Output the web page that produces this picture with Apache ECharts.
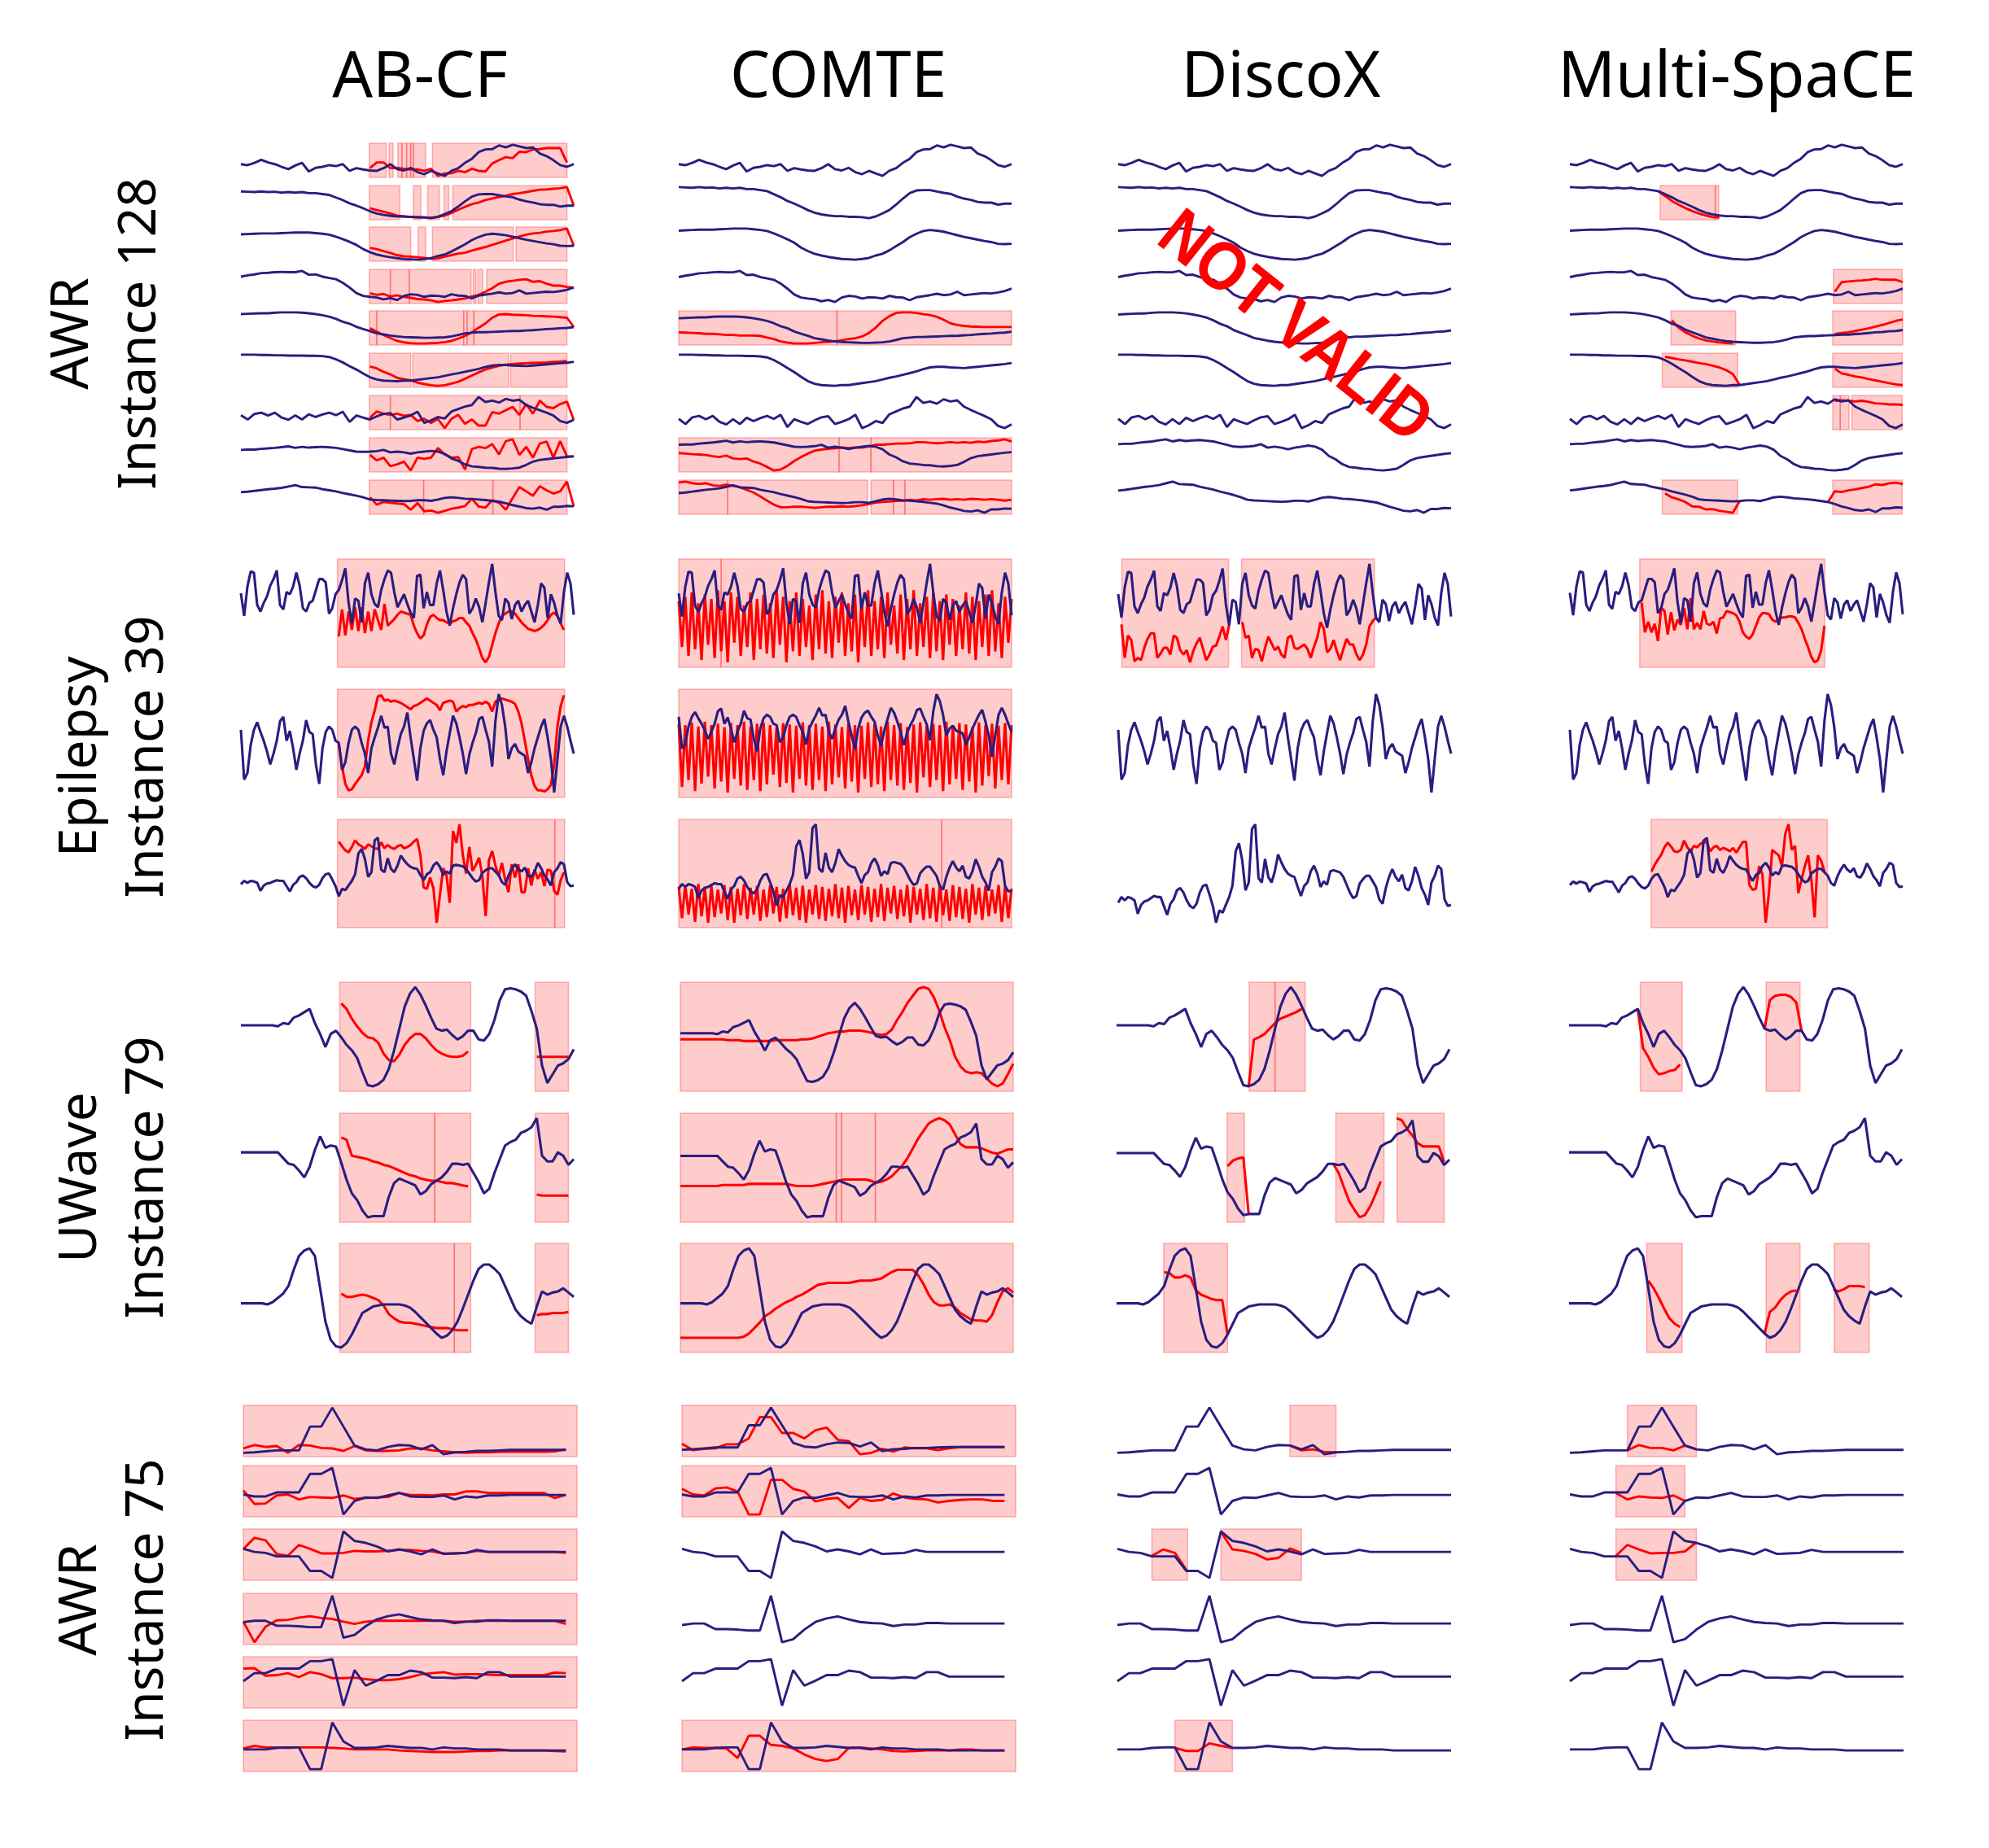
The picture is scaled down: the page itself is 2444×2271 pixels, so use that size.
<!DOCTYPE html>
<html><head><meta charset="utf-8">
<script src="https://cdn.jsdelivr.net/npm/echarts@6/dist/echarts.min.js"></script>
<style>html,body{margin:0;padding:0;background:#fff}#c{width:2444px;height:2271px}</style>
</head><body><div id="c"></div><script>
// ---------------- labels ----------------
const METHODS = ['AB-CF','COMTE','DiscoX','Multi-SpaCE'];
const DATASETS = [['AWR','Instance 128'],['Epilepsy','Instance 39'],['UWave','Instance 79'],['AWR','Instance 75']];

// ---------------- AWR Instance 128 (9 channels) ----------------
const AWR128_BLUE = [
 [38,35,42,51,43,38,30,23,34,42,16,27,30,35,32,38,18,26,22,19,18,26,38,23,19,27,14,8,18,10,3,18,26,42,54,74,82,83,94,88,96,91,86,88,70,62,50,35,30,38],
 [96,95,94,96,94,95,92,94,92,94,90,90,87,84,75,66,55,47,38,28,20,15,12,10,10,8,8,7,4,9,18,28,44,62,78,86,87,87,83,79,76,68,62,58,52,50,50,44,47,47],
 [88,89,90,91,91,91,92,93,94,94,94,92,90,87,80,72,63,53,39,29,21,16,12,9,6,5,4,6,9,16,21,31,43,55,69,79,87,90,88,85,80,75,70,66,62,58,55,50,49,50],
 [80,84,87,91,92,94,95,94,94,98,86,87,80,76,72,61,46,29,20,17,15,9,13,7,20,25,23,17,21,20,17,25,21,20,12,21,24,27,31,27,29,37,27,29,31,33,32,35,39,46],
 [88,89,90,91,91,93,94,94,94,93,91,88,84,79,71,61,54,43,35,28,20,16,12,9,7,6,5,4,4,5,6,9,14,20,22,24,24,25,26,27,28,28,30,31,33,35,36,38,39,42],
 [97,97,97,96,96,95,95,94,94,94,93,93,92,89,81,70,57,45,31,18,10,6,5,4,6,6,9,12,15,18,23,28,32,37,42,47,54,59,61,61,59,58,57,59,61,63,65,67,69,72],
 [31,17,35,39,30,39,23,16,30,17,34,25,33,39,31,42,9,30,23,17,27,35,38,17,23,30,42,6,14,25,20,43,51,59,64,90,74,78,72,84,78,81,64,55,47,39,30,12,6,16],
 [82,83,83,86,88,90,93,96,90,94,91,93,94,92,90,85,80,75,74,75,77,82,72,75,72,67,72,75,78,75,66,48,38,24,16,14,11,10,7,6,8,11,22,35,42,45,48,51,54,56],
 [71,73,76,79,82,84,87,92,97,90,89,88,82,78,74,68,63,58,52,44,42,41,40,39,38,39,41,41,39,44,50,52,50,47,46,44,42,39,36,30,23,18,12,10,14,6,17,17,20,19]
];
const AWR128_RED_ABCF = [
 [[19,[26,43,43,26,27,24,22,22,18,24,3,10,11,18,14,24,18,16,40,50,59,56,75,74,82,83,86,86,86,43]]],
 [[19,[38,32,26,20,13,10,8,6,6,6,8,13,22,33,43,52,58,66,72,77,81,87,90,94,98,102,103,105,107,111,47]]],
 [[19,[43,39,32,26,19,15,14,12,10,7,8,14,19,24,27,34,40,46,53,60,67,74,81,87,91,93,97,99,102,107,50]]],
 [[19,[28,23,26,18,22,17,14,10,9,6,1,4,6,9,12,18,23,33,44,58,64,67,70,72,64,66,58,52,52,48,46]]],
 [[19,[38,26,14,3,-7,-12,-15,-16,-16,-15,-14,-11,-7,1,11,23,40,55,75,87,88,86,85,84,82,81,80,79,77,75,42]]],
 [[19,[56,49,37,28,16,11,7,-1,-6,-10,-12,-10,-4,2,13,24,35,45,52,58,62,64,66,67,68,69,70,72,73,75]]],
 [[19,[23,43,36,32,36,29,32,12,19,6,19,-11,19,32,3,17,-3,-3,41,36,47,58,32,67,36,78,58,54,67,75,16]]],
 [[19,[62,40,51,17,24,35,0,51,46,51,89,64,51,53,3,85,94,89,105,64,117,124,62,94,51,107,115,51,117,56,56]]],
 [[19,[52,25,35,32,29,27,6,31,0,3,-5,2,10,14,20,47,18,14,41,32,6,49,90,74,58,93,78,66,74,110,19]]]
];
const AWR128_RED_COMTE = [[],[],[],[],
 [[0,[40,39,38,37,35,35,33,31,31,29,29,29,28,22,17,9,5,2,2,2,4,6,8,9,13,17,20,26,38,56,79,95,106,108,108,106,102,99,93,83,71,65,62,60,59,58,58,58,58,58]]],
 [],[],
 [[0,[53,51,49,48,46,42,39,44,34,32,34,23,16,4,-8,-5,8,25,39,51,61,65,68,70,72,70,72,72,76,82,82,84,86,86,87,91,91,89,87,89,91,89,91,89,93,91,95,97,101,93]]],
 [[0,[106,109,104,101,104,97,95,99,95,91,82,73,60,46,33,24,24,26,26,24,22,24,26,26,27,26,28,31,35,40,42,43,45,46,49,46,51,49,51,52,49,51,49,52,51,49,51,49,46,49]]]
];
const AWR128_RED_DISCOX = [[],[],[],[],[],[],[],[],[]];
const AWR128_RED_MULTI = [[],
 [[13,[84,70,55,44,34,25,18,12,7,6]]],
 [],
 [[39,[37,65,67,69,70,72,75,72,72,72,65]]],
 [[15,[71,49,35,25,17,11,8,5,3,2]],[39,[30,33,35,39,43,47,52,57,63,69,73]]],
 [[14,[91,87,83,80,76,72,69,64,59,51,39,6]],[39,[55,41,37,32,29,24,20,16,12,8,6]]],
 [[39,[80,81,80,78,80,77,73,72,70,70,69]]],
 [],
 [[14,[62,50,44,36,23,22,14,15,10,7,4,39]],[38,[36,68,66,71,74,78,82,89,87,92,94,90]]]
];
const AWR128_BOX_ABCF = [
 [[18.9,21.4],[21.8,22.4],[23.1,23.7],[23.7,24.4],[24.4,25.0],[25.0,25.4],[25.4,27.2],[28.2,48.0]],
 [[18.9,23.4],[25.4,26.5],[27.5,29.2],[29.9,30.6],[31.2,48.0]],
 [[18.9,25.0],[26.1,27.2],[28.2,40.1],[40.5,48.0]],
 [[18.9,22.0],[22.0,24.8],[24.8,33.9],[34.2,34.6],[34.9,35.6],[36.2,48.0]],
 [[18.9,20.0],[20.0,32.8],[32.8,33.3],[33.3,34.3],[34.3,48.0]],
 [[18.9,25.0],[25.3,39.4],[39.7,48.0]],
 [[18.9,22.0],[22.0,41.1],[41.1,48.0]],
 [[18.9,48.0]],
 [[18.9,26.9],[26.9,37.1],[37.1,48.0]]
];
const AWR128_BOX_COMTE = [[],[],[],[],[[0,23.3],[23.3,49]],[],[],[[0,23.6],[23.6,28.3],[28.3,49]],[[0,7.2],[7.2,27.8],[28.3,31.6],[31.6,33.3],[33.3,49]]];
const AWR128_BOX_DISCOX = [[],[],[],[],[],[],[],[],[]];
const AWR128_BOX_MULTI = [[],[[13.3,21.4],[21.4,21.9]],[],[[38.8,48.9]],[[14.9,24.4],[38.7,49]],[[13.6,24.7],[38.7,48.9]],[[38.7,39.8],[39.8,41.1],[41.5,48.9]],[],[[13.6,24.7],[38.7,48.9]]];

// ---------------- Epilepsy Instance 39 (3 channels) ----------------
const EPI39_BLUE = [
 [69,48,75,89,88,58,52,60,66,76,82,90,58,54,70,68,75,88,76,55,52,60,62,72,82,82,79,50,55,68,72,81,92,60,41,64,62,42,78,88,68,59,56,72,82,90,88,70,56,62,68,59,51,46,85,86,55,70,58,58,78,90,72,52,39,55,68,79,86,82,50,55,64,56,42,60,79,96,70,48,44,64,60,45,58,62,52,58,62,52,42,58,78,74,46,68,60,48,41,70,88,78,49],
 [62,16,22,48,62,69,60,52,42,30,40,52,70,74,52,61,45,25,40,52,71,60,58,30,12,45,60,65,62,52,50,25,32,50,62,65,62,50,40,22,45,55,64,75,64,65,40,30,45,58,65,78,55,35,15,45,61,68,71,62,55,35,20,42,59,75,68,55,40,21,39,50,59,72,74,62,51,28,70,95,85,65,35,45,49,42,40,38,22,32,45,55,65,72,55,35,4,35,65,75,65,52,40],
 [22,27,24,27,26,24,12,20,23,24,26,28,27,27,19,11,21,25,33,35,31,24,19,17,21,31,37,38,29,19,4,15,13,20,27,37,68,75,60,33,40,88,92,44,40,61,45,40,50,65,58,52,48,46,45,36,28,37,40,50,55,48,36,41,38,50,51,50,49,45,38,31,26,28,39,43,46,46,41,36,25,21,35,45,52,45,41,47,35,33,41,54,46,35,29,20,40,46,55,52,25,19,20]
];
const EPI39_RED_ABCF = [
 [[30,[29,54,30,52,35,56,34,56,32,52,34,54,44,35,59,39,42,45,49,52,51,50,49,39,32,27,30,40,47,49,46,44,44,42,41,43,44,46,46,42,39,32,26,18,9,5,10,21,32,41,48,50,52,52,50,46,42,39,36,35,34,35,37,40,44,49,51,48,41,35]]],
 [[30,[49,28,12,6,7,12,16,20,28,52,69,80,93,94,89,90,88,89,88,87,85,83,81,84,85,87,89,91,89,87,85,80,87,88,89,88,79,82,84,83,85,85,86,87,86,88,86,79,88,90,91,90,89,88,86,79,68,52,35,20,10,6,6,5,7,11,30,65,84,94]]],
 [[30,[86,79,73,70,78,88,82,79,75,82,79,76,75,85,76,81,77,75,79,81,76,78,81,86,90,66,17,15,32,16,-36,6,46,36,-6,102,84,112,66,38,78,42,51,62,34,-26,58,72,50,34,54,28,10,52,32,52,10,10,46,20,44,30,40,19,44,42,12,6,28,40]]]
];
const EPI39_RED_COMTE = [
 [[0,[62,20,66,12,70,18,60,8,68,22,64,10,72,16,62,6,70,24,66,12,58,20,70,8,64,18,68,14,60,10,72,22,66,6,62,16,70,12,64,20,58,8,68,18,72,14,62,10,66,24,70,12,60,16,68,6,64,20,72,12,62,18,66,10,70,22,58,14,68,8,64,18,72,12,60,20,66,10,70,16,62,8,68,22,64,12,58,18,70,14,66,8,62,20,68,12,72,16,60,10,66,24,64]]],
 [[0,[52,-40,50,-30,54,-46,48,-35,55,-25,50,-42,52,-32,47,-48,53,-28,50,-38,55,-44,48,-30,52,-46,54,-36,50,-22,47,-40,53,-34,51,-48,49,-28,54,-38,50,-44,52,-30,48,-46,55,-36,51,-26,47,-42,53,-32,50,-48,49,-28,54,-40,52,-36,48,-46,55,-30,50,-38,53,-44,47,-34,51,-48,54,-26,49,-40,52,-30,50,-46,55,-36,48,-28,53,-44,51,-32,47,-48,54,-38,50,-24,52,-42,49,-30,53,-36,50]]],
 [[0,[24,-10,26,-6,22,-14,27,-8,23,-15,25,-9,21,-5,26,-12,24,-15,22,-7,27,-11,23,-6,25,-13,21,-9,26,-5,24,-14,22,-10,27,-7,23,-12,25,-15,21,-6,26,-11,24,-13,22,-8,27,-10,23,-15,25,-7,21,-12,26,-6,24,-14,22,-9,27,-13,23,-5,25,-11,21,-8,26,-15,24,-6,22,-12,27,-10,23,-14,25,-7,21,-13,26,-9,24,-11,22,-15,27,-6,23,-12,25,-8,21,-5,26,-14,24,-10,22]]]
];
const EPI39_RED_DISCOX = [
 [[1,[42,12,32,28,9,12,10,21,29,34,34,12,16,21,21,15,32,30,19,15,19,8,18,25,30,20,10,15,22,23,31,40,28,41]],
  [38,[44,30,32,12,20,19,9,21,31,25,19,22,15,12,30,32,21,20,22,24,20,12,22,30,44,38,17,20,28,18,10,20,29,24,24,15,10,15,24,40,45,48]]],
 [],[]
];
const EPI39_RED_MULTI = [
 [[22,[60,32,42,32,40,24,55,52,30,51,34,44,39,55,35,64,35,41,35,52,40,39,42,31,45,46,52,51,50,48,42,32,28,26,30,38,46,50,50,49,44,42,44,46,46,47,47,46,41,35,26,18,9,4,6,15,38]]],
 [],
 [[25,[42,52,60,67,78,85,79,72,71,74,88,78,72,80,78,83,86,85,72,78,80,74,77,75,72,77,70,78,86,86,22,15,16,50,38,-34,10,74,70,66,50,98,112,74,80,10,30,50,66,30,-26,66,58,42]]]
];
const EPI39_BOX_ABCF = [[[29.6,99.2]],[[29.6,99.2]],[[29.6,96.2],[96.2,99.2]]];
const EPI39_BOX_COMTE = [[[0,13],[13,102]],[[0,102]],[[0,80.6],[80.6,102]]];
const EPI39_BOX_DISCOX = [[[1.1,33.8],[37.8,78.5]],[],[]];
const EPI39_BOX_MULTI = [[[21.4,78.1]],[],[[24.9,78.9]]];

// ---------------- UWave Instance 79 (3 channels) ----------------
const UW79_BLUE = [
 [60,60,60,60,60,60,60,59,62,61,67,69,72,75,62,52,40,52,55,49,42,37,30,17,5,4,6,10,20,37,57,77,89,95,88,78,67,57,55,56,51,47,50,55,55,47,46,52,65,83,93,94,93,91,87,73,57,23,7,15,23,25,29,38],
 [64,64,64,64,64,64,64,64,59,54,53,48,42,51,66,78,68,70,69,55,40,28,22,13,7,8,8,8,25,37,41,39,37,35,27,30,36,39,42,47,54,54,53,54,46,38,28,32,46,58,70,73,75,81,83,86,94,61,56,56,64,61,53,58],
 [45,45,45,45,45,44,46,50,54,61,76,89,94,96,89,59,28,11,5,4,8,16,26,36,39,42,43,44,44,44,44,43,41,37,32,27,22,17,13,15,20,28,40,53,66,77,81,81,77,72,61,50,39,33,29,26,42,56,53,55,56,59,55,51]
];
const UW79_RED_ABCF = [
 [[19,[80,75,66,59,53,49,48,44,34,28,27,33,42,48,52,52,48,42,37,34,32,31,31,32,36]],[56,[31,31,31,31,31,31,31]]],
 [[19,[77,75,61,60,59,58,56,55,53,52,50,48,46,44,43,41,40,39,39,38,37,37,36,35,34]],[56,[27,26,26,26,26,26,26]]],
 [[19,[54,51,51,52,53,52,50,48,43,35,31,28,27,27,26,25,24,23,22,22,22,21,20,20,20]],[56,[34,35,35,36,36,36,37]]]
];
const UW79_RED_COMTE = [
 [[0,[53,53,53,53,53,53,53,53,53,52,52,52,51,51,51,51,51,51,52,52,52,52,52,53,53,54,56,58,60,61,62,62,63,63,63,62,61,59,58,59,64,75,84,95,103,111,113,111,101,86,67,52,33,22,16,14,15,14,8,2,-1,2,13,25]]],
 [[0,[36,36,36,36,36,36,36,36,37,37,37,37,37,38,38,38,38,38,38,38,38,37,36,36,36,36,37,38,39,40,41,42,42,42,42,42,41,39,40,42,45,50,55,62,71,80,87,94,97,99,97,93,84,75,72,72,72,71,69,67,66,68,70,70]]],
 [[0,[13,13,13,13,13,13,13,13,13,13,13,13,14,17,22,27,33,36,40,43,46,48,51,53,56,59,62,63,64,64,64,64,64,65,66,66,66,67,68,71,74,76,76,76,76,71,63,53,46,43,43,44,41,36,33,30,29,29,28,34,46,56,59,55]]]
];
const UW79_RED_DISCOX = [
 [[25,[4,47,49,52,57,62,66,68,70,72,75]]],
 [[21,[52,57,59,60,8]],[41,[54,46,33,20,12,5,7,15,26,38]],[53,[96,94,86,80,73,70,70,70,70,56]]],
 [[9,[74,73,69,69,71,69,57,53,51,49,48,48,16]]]
];
const UW79_RED_MULTI = [
 [[13,[75,39,31,21,15,16,18,19,24]],[37,[57,83,87,88,88,86,81,55]]],
 [],
 [[15,[66,59,50,40,31,26,23]],[37,[17,37,41,48,53,56,57]],[50,[58,56,58,61,61,61,60]]]
];
const UW79_BOX_ABCF = [[[18.7,43.5],[55.7,62.0]],[[18.7,36.7],[36.7,43.5],[55.7,62.0]],[[18.7,40.4],[40.4,43.5],[55.7,62.0]]];
const UW79_BOX_COMTE = [[[0,63]],[[0,29.5],[29.5,30.5],[30.5,36.9],[36.9,63]],[[0,63]]];
const UW79_BOX_DISCOX = [[[25.1,30.0],[30.0,35.7]],[[20.9,24.2],[41.5,50.6],[53.1,62.0]],[[8.9,21.0]]];
const UW79_BOX_MULTI = [[[13.5,21.4],[37.3,43.7]],[],[[14.7,21.4],[37.3,43.7],[50.2,56.8]]];

// ---------------- AWR Instance 75 (6 channels) ----------------
const AWR75_BLUE = [
 [7,8,10,12,12,12,61,61,100,61,22,14,12,19,23,22,14,23,4,8,9,11,11,12,13,13,13,13,13,13],
 [43,39,39,47,47,47,84,84,96,3,30,37,36,41,46,39,38,38,41,33,39,37,41,41,42,42,42,42,42,42],
 [61,55,53,46,46,46,17,17,3,96,77,73,66,56,60,56,50,60,51,52,53,59,55,55,55,55,55,55,55,55],
 [38,41,41,30,30,29,27,27,96,4,10,29,44,51,55,49,44,42,41,36,39,39,42,42,41,41,41,41,41,41],
 [53,69,69,78,78,78,93,93,97,4,75,44,54,65,65,74,71,60,60,59,61,59,71,71,62,62,62,62,62,62],
 [43,43,43,46,47,47,4,4,96,59,46,46,47,50,48,46,46,43,47,45,45,43,43,43,41,41,41,41,41,41]
];
const AWR75_RED_ABCF = [
 [[0,[16,23,19,21,7,23,22,17,16,11,21,12,11,11,12,16,16,12,10,8,7,8,8,9,9,9,9,9,10,14]]],
 [[0,[51,24,25,41,43,33,38,37,36,41,34,36,37,38,46,42,42,41,43,43,49,49,46,46,46,46,46,46,36,42]]],
 [[0,[61,83,78,51,47,69,61,52,52,53,57,56,56,57,59,59,57,56,52,52,53,57,55,55,55,55,55,55,55,53]]],
 [[0,[39,-6,28,42,43,48,51,47,45,39,34,39,41,41,41,41,41,41,41,39,39,41,41,41,41,41,41,41,41,34]]],
 [[0,[78,79,64,65,69,61,71,67,59,59,60,57,55,55,57,61,67,69,71,66,67,67,66,65,65,65,65,65,70,69]]],
 [[0,[45,50,47,47,46,47,47,47,46,45,43,43,43,43,41,40,39,38,38,38,39,40,40,41,41,41,41,41,40,39]]]
];
const AWR75_RED_COMTE = [
 [[0,[20,6,9,10,19,19,32,79,79,44,44,32,50,56,29,26,-3,0,9,3,12,10,10,6,10,13,13,13,13,13]]],
 [[0,[54,43,41,55,57,49,3,3,72,72,54,49,29,34,36,16,36,30,32,45,37,34,33,27,30,32,33,33,30,30]]],
 [],[],[],
 [[0,[43,47,46,46,45,26,70,70,52,50,45,33,24,20,24,46,47,45,43,40,39,40,41,41,41,43,43,41,41,41]]]
];
const AWR75_RED_DISCOX = [
 [[15,[22,12,14,9,8]]],
 [],
 [[3,[47,60,53,19]],[9,[95,60,57,51,40,43,62,53]]],
 [],[],
 [[5,[46,40,40,55,50,46]]]
];
const AWR75_RED_MULTI = [
 [[5,[12,23,17,17,12,22,14]]],
 [[4,[46,33,39,37,36,41,30]]],
 [[4,[47,69,60,52,53,53,56,74]]],
 [],[],[]
];
const AWR75_BOX_ABCF = [[[0,30]],[[0,30]],[[0,30]],[[0,30]],[[0,30]],[[0,30]]];
const AWR75_BOX_COMTE = [[[0,30]],[[0,30]],[],[],[],[[0,30]]];
const AWR75_BOX_DISCOX = [[[15.0,19.0]],[],[[3.0,6.1],[9.0,16.0]],[],[],[[5.0,10.0]]];
const AWR75_BOX_MULTI = [[[5.0,11.0]],[[4.0,10.0]],[[4.0,11.0]],[],[],[]];

// ---------------- layout ----------------
const BLUE = '#2a1d80', RED = '#ff0000';
const groups = [
 {blue:AWR128_BLUE, red:[AWR128_RED_ABCF,AWR128_RED_COMTE,AWR128_RED_DISCOX,AWR128_RED_MULTI],
  box:[AWR128_BOX_ABCF,AWR128_BOX_COMTE,AWR128_BOX_DISCOX,AWR128_BOX_MULTI],
  tops:[176,228,279,331,382,434,486,538,590], h:42, xs:[296,834,1374,1929], w:409, xmax:[49,49,49,49], lw:2.9},
 {blue:EPI39_BLUE, red:[EPI39_RED_ABCF,EPI39_RED_COMTE,EPI39_RED_DISCOX,EPI39_RED_MULTI],
  box:[EPI39_BOX_ABCF,EPI39_BOX_COMTE,EPI39_BOX_DISCOX,EPI39_BOX_MULTI],
  tops:[687,847,1007], h:133, xs:[296,834,1374,1929], w:409, xmax:[102,102,102,102], lw:3.1},
 {blue:UW79_BLUE, red:[UW79_RED_ABCF,UW79_RED_COMTE,UW79_RED_DISCOX,UW79_RED_MULTI],
  box:[UW79_BOX_ABCF,UW79_BOX_COMTE,UW79_BOX_DISCOX,UW79_BOX_MULTI],
  tops:[1207,1368,1528], h:134, xs:[296,836,1372,1928], w:409, xmax:[63,63,63,63], lw:3.1},
 {blue:AWR75_BLUE, red:[AWR75_RED_ABCF,AWR75_RED_COMTE,AWR75_RED_DISCOX,AWR75_RED_MULTI],
  box:[AWR75_BOX_ABCF,AWR75_BOX_COMTE,AWR75_BOX_DISCOX,AWR75_BOX_MULTI],
  tops:[1727,1801,1879,1958,2036,2114], h:63, xs:[299,838,1373,1929], w:410, xmax:[30,30,29,29], lw:2.9}
];

const grids=[], xAxes=[], yAxes=[], series=[];
function addPanel(gx, gy, w, h, xmax, blue, reds, boxes, lw){
  const idx = grids.length;
  let vals = blue.slice();
  reds.forEach(s => { vals = vals.concat(s[1]); });
  const mn = Math.min.apply(null, vals), mx = Math.max.apply(null, vals), r = mx - mn;
  grids.push({left:gx, top:gy, width:w, height:h});
  xAxes.push({type:'value', gridIndex:idx, min:0, max:xmax, show:false});
  yAxes.push({type:'value', gridIndex:idx, min:mn-0.05*r, max:mx+0.05*r, show:false});
  if (boxes.length) {
    series.push({type:'line', xAxisIndex:idx, yAxisIndex:idx, data:[[0,mn]], symbol:'none', silent:true, z:1,
      lineStyle:{opacity:0},
      markArea:{silent:true, itemStyle:{color:'rgba(255,0,0,0.2)', borderColor:'rgba(255,40,40,0.32)', borderWidth:1.6},
        data: boxes.map(b => [{xAxis:b[0]},{xAxis:b[1]}])}});
  }
  reds.forEach(s => {
    series.push({type:'line', xAxisIndex:idx, yAxisIndex:idx, symbol:'none', silent:true, z:2,
      data: s[1].map((v,i) => [s[0]+i, v]), lineStyle:{color:RED, width:lw}});
  });
  series.push({type:'line', xAxisIndex:idx, yAxisIndex:idx, symbol:'none', silent:true, z:3,
    data: blue.map((v,i) => [i, v]), lineStyle:{color:BLUE, width:lw}});
}
groups.forEach(g => {
  for (let c = 0; c < 4; c++) {
    g.blue.forEach((b, k) => addPanel(g.xs[c], g.tops[k], g.w, g.h, g.xmax[c], b, g.red[c][k], g.box[c][k], g.lw));
  }
});

const titleX = [516, 1030, 1574, 2134];
const graphic = [];
METHODS.forEach((t,i) => graphic.push({type:'text', x:titleX[i], y:97, z:50,
  style:{text:t, font:'78px "Noto Sans"', fill:'#000', textAlign:'center', textVerticalAlign:'middle'}}));
const labelY = [410, 930, 1447, 1966];
const labelX1 = [90, 100, 100, 100], labelX2 = [173, 182, 182, 182];
DATASETS.forEach((d,i) => {
  graphic.push({type:'text', x:labelX1[i], y:labelY[i], rotation:Math.PI/2, z:50,
    style:{text:d[0], font:'64px "Noto Sans"', fill:'#000', textAlign:'center', textVerticalAlign:'middle'}});
  graphic.push({type:'text', x:labelX2[i], y:labelY[i], rotation:Math.PI/2, z:50,
    style:{text:d[1], font:'64px "Noto Sans"', fill:'#000', textAlign:'center', textVerticalAlign:'middle'}});
});
graphic.push({type:'text', x:1590, y:404, rotation:-38.5*Math.PI/180, scaleX:0.9, z:100,
  style:{text:'NOT VALID', font:'bold 84px "Liberation Sans"', fill:'#ff0000', textAlign:'center', textVerticalAlign:'middle'}});

const chart = echarts.init(document.getElementById('c'), null, {renderer:'canvas'});
chart.setOption({animation:false, backgroundColor:'#fff', grid:grids, xAxis:xAxes, yAxis:yAxes, series:series, graphic:graphic});
</script></body></html>
